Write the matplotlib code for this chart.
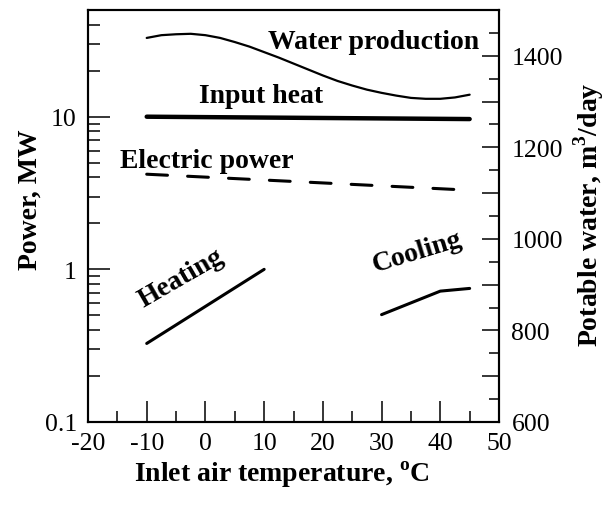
import numpy as np
import matplotlib.pyplot as plt
from matplotlib.ticker import LogLocator, NullFormatter, FixedLocator, MultipleLocator

plt.rcParams["font.family"] = ["Liberation Serif", "DejaVu Serif"]
plt.rcParams["mathtext.fontset"] = "custom"
plt.rcParams["mathtext.rm"] = "Liberation Serif:bold"
plt.rcParams["mathtext.bf"] = "Liberation Serif:bold"
plt.rcParams["axes.unicode_minus"] = False

# Inlet air temperature, C
temp_lines = [-10, 45]
water_temp = [-10, -7.5, -5, -2.5, 0, 2.5, 5, 7.5, 10, 12.5, 15, 17.5,
              20, 22.5, 25, 27.5, 30, 32.5, 35, 37.5, 40, 42.5, 45]
# Potable water production, m3/day (right axis)
water_prod = [1439, 1445, 1447, 1448, 1445, 1439, 1430, 1420, 1408, 1396, 1383, 1370,
              1357, 1345, 1335, 1326, 1319, 1313, 1308, 1306, 1306, 1309, 1315]
# Power, MW (left axis)
input_heat = [10.0, 9.65]
electric_power = [4.2, 3.3]
heating_temp = [-10, 10]
heating = [0.327, 1.0]
cooling_temp = [30, 40, 45]
cooling = [0.505, 0.72, 0.75]

fig = plt.figure(figsize=(6.08, 5.06), dpi=100)
ax = fig.add_axes([88 / 608, 1 - 423 / 506, 411 / 608, 412 / 506])
ax2 = ax.twinx()

ax.plot(temp_lines, input_heat, color="black", lw=3.2, solid_capstyle="round")
ax.plot(temp_lines, electric_power, color="black", lw=2.2,
        dashes=(6.8, 6.6), dash_capstyle="round")
ax.plot(heating_temp, heating, color="black", lw=2.2, solid_capstyle="round")
ax.plot(cooling_temp, cooling, color="black", lw=2.2, solid_capstyle="round")
ax2.plot(water_temp, water_prod, color="black", lw=1.6, solid_capstyle="round",
         solid_joinstyle="round")

ax.set_yscale("log")
ax.set_xlim(-20, 50)
ax.set_ylim(0.1, 50)
ax2.set_ylim(600, 1500)

ax.xaxis.set_major_locator(MultipleLocator(10))
ax.xaxis.set_minor_locator(MultipleLocator(5))
ax.yaxis.set_major_locator(FixedLocator([0.1, 1, 10]))
ax.yaxis.set_major_formatter(plt.FixedFormatter(["0.1", "1", "10"]))
ax.yaxis.set_minor_locator(LogLocator(base=10, subs=np.arange(2, 10)))
ax.yaxis.set_minor_formatter(NullFormatter())
ax2.yaxis.set_major_locator(MultipleLocator(100))
ax2.yaxis.set_minor_locator(MultipleLocator(50))
ax2.yaxis.set_major_formatter(
    plt.FuncFormatter(lambda v, p: f"{v:.0f}" if v % 200 == 0 and v < 1500 else ""))

ax.tick_params(axis="x", which="major", direction="in", length=15, width=1.1,
               labelsize=18.5, pad=7, top=False)
ax.tick_params(axis="x", which="minor", direction="in", length=8, width=1.1, top=False)
ax.tick_params(axis="y", which="major", direction="in", length=16, width=1.1,
               labelsize=18.5, pad=8, right=False)
ax.tick_params(axis="y", which="minor", direction="in", length=8.5, width=1.1, right=False)
ax2.tick_params(axis="y", which="major", direction="in", length=12, width=1.1,
                labelsize=18.5, pad=9)
ax2.tick_params(axis="y", which="minor", direction="in", length=7, width=1.1)

for a in (ax, ax2):
    for s in a.spines.values():
        s.set_linewidth(1.5)

bold = dict(fontsize=20, fontweight="bold", ha="center", va="center")
ax.text(28.7, 31.0, "Water production", **bold)
ax.text(9.5, 13.7, "Input heat", **bold)
ax.text(0.3, 5.14, "Electric power", **bold)
ax.text(-4.2, 0.886, "Heating", rotation=30, rotation_mode="anchor", **bold)
ax.text(36.0, 1.31, "Cooling", rotation=17, rotation_mode="anchor", **bold)

fig.text(30 / 608, 1 - 200 / 506, "Power, MW", rotation=90, **bold)
fig.text(589 / 608, 1 - 215 / 506, r"Potable water, m$^{\mathbf{3}}$/day",
         rotation=90, **bold)
fig.text(282 / 608, 1 - 475 / 506, r"Inlet air temperature, $^{\mathbf{o}}$C", **bold)

fig.savefig("out.png", dpi=100)
